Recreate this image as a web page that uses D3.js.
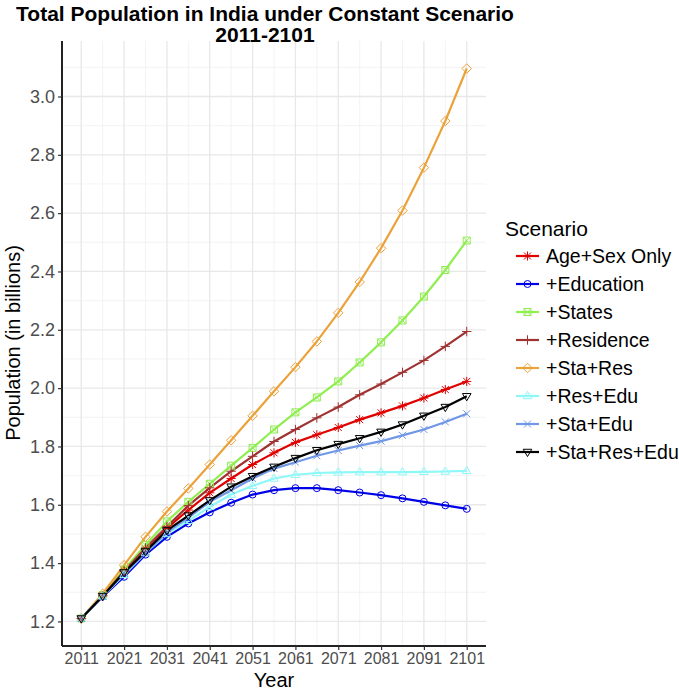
<!DOCTYPE html>
<html>
<head>
<meta charset="utf-8">
<script src="https://cdn.jsdelivr.net/npm/d3@7/dist/d3.min.js"></script>
<style>
  body { margin: 0; background: #fff; }
  svg { display: block; font-family: "Liberation Sans", Arial, sans-serif; }
</style>
</head>
<body>
<svg id="chart" width="679" height="690"></svg>
<script>
// ---- Data ----
const years = [2011, 2016, 2021, 2026, 2031, 2036, 2041, 2046, 2051, 2056, 2061, 2066, 2071, 2076, 2081, 2086, 2091, 2096, 2101];
const scenarios = ["Age+Sex Only", "+Education", "+States", "+Residence", "+Sta+Res", "+Res+Edu", "+Sta+Edu", "+Sta+Res+Edu"];
const ageSexOnly = [1.21, 1.288, 1.375, 1.449, 1.520, 1.582, 1.641, 1.690, 1.738, 1.778, 1.814, 1.840, 1.865, 1.892, 1.915, 1.939, 1.966, 1.995, 2.023];
const education  = [1.21, 1.285, 1.353, 1.429, 1.490, 1.536, 1.574, 1.607, 1.635, 1.650, 1.657, 1.657, 1.650, 1.642, 1.633, 1.622, 1.610, 1.598, 1.586];
const states     = [1.21, 1.290, 1.378, 1.462, 1.543, 1.610, 1.672, 1.734, 1.795, 1.858, 1.917, 1.968, 2.023, 2.088, 2.157, 2.232, 2.314, 2.405, 2.506];
const residence  = [1.21, 1.288, 1.372, 1.452, 1.525, 1.597, 1.658, 1.715, 1.766, 1.817, 1.858, 1.898, 1.935, 1.977, 2.014, 2.054, 2.095, 2.143, 2.194];
const staRes     = [1.21, 1.295, 1.393, 1.490, 1.577, 1.656, 1.738, 1.821, 1.905, 1.989, 2.072, 2.160, 2.258, 2.364, 2.480, 2.609, 2.756, 2.916, 3.096];
const resEdu     = [1.21, 1.286, 1.360, 1.435, 1.500, 1.545, 1.593, 1.635, 1.665, 1.690, 1.703, 1.709, 1.711, 1.712, 1.712, 1.712, 1.713, 1.714, 1.716];
const staEdu     = [1.21, 1.286, 1.365, 1.435, 1.505, 1.556, 1.610, 1.650, 1.690, 1.724, 1.746, 1.768, 1.786, 1.803, 1.818, 1.838, 1.858, 1.884, 1.912];
const staResEdu  = [1.21, 1.287, 1.368, 1.440, 1.512, 1.563, 1.615, 1.662, 1.698, 1.730, 1.760, 1.787, 1.808, 1.828, 1.850, 1.875, 1.905, 1.935, 1.972];
const seriesValues = [ageSexOnly, education, states, residence, staRes, resEdu, staEdu, staResEdu];
const xTicks = [2011, 2021, 2031, 2041, 2051, 2061, 2071, 2081, 2091, 2101];
const yTicks = [1.2, 1.4, 1.6, 1.8, 2.0, 2.2, 2.4, 2.6, 2.8, 3.0];

// ---- Styles ----
const colors = ["#e00000", "#0000e6", "#90ee50", "#a03232", "#eba23a", "#8ef7f7", "#7097e6", "#000000"];
const shapes = ["asterisk", "circle", "squarecross", "plus", "diamond", "triangleUp", "cross", "triangleDown"];

const svg = d3.select("#chart");
const P = { left: 62, right: 486, top: 41, bottom: 646 };

const allVals = seriesValues.flat();
const yMin = d3.min(allVals), yMax = d3.max(allVals);
const yPad = (yMax - yMin) * 0.05;
const xPad = (d3.max(years) - d3.min(years)) * 0.05;

const x = d3.scaleLinear().domain([d3.min(years) - xPad, d3.max(years) + xPad]).range([P.left, P.right]);
const y = d3.scaleLinear().domain([yMin - yPad, yMax + yPad]).range([P.bottom, P.top]);

// grid
const grid = svg.append("g");
const xMinor = xTicks.slice(0, -1).map(d => d + 5);
const yMinor = yTicks.map(d => +(d + 0.1).toFixed(1));
grid.selectAll(".xminor").data(xMinor).join("line")
  .attr("x1", d => x(d)).attr("x2", d => x(d)).attr("y1", P.top).attr("y2", P.bottom)
  .attr("stroke", "#f0f0f0").attr("stroke-width", 0.8);
grid.selectAll(".yminor").data(yMinor).join("line")
  .attr("x1", P.left).attr("x2", P.right).attr("y1", d => y(d)).attr("y2", d => y(d))
  .attr("stroke", "#f0f0f0").attr("stroke-width", 0.8);
grid.selectAll(".xmajor").data(xTicks).join("line")
  .attr("x1", d => x(d)).attr("x2", d => x(d)).attr("y1", P.top).attr("y2", P.bottom)
  .attr("stroke", "#e8e8e8").attr("stroke-width", 1.3);
grid.selectAll(".ymajor").data(yTicks).join("line")
  .attr("x1", P.left).attr("x2", P.right).attr("y1", d => y(d)).attr("y2", d => y(d))
  .attr("stroke", "#e8e8e8").attr("stroke-width", 1.3);

// shape path generator
function shapePath(type, s) {
  const p = d3.path();
  switch (type) {
    case "circle":
      p.moveTo(s, 0); p.arc(0, 0, s, 0, 2 * Math.PI); break;
    case "squarecross":
      p.rect(-s, -s, 2 * s, 2 * s);
      p.moveTo(-s, -s); p.lineTo(s, s); p.moveTo(s, -s); p.lineTo(-s, s); break;
    case "plus": {
      const a = s * 1.35;
      p.moveTo(-a, 0); p.lineTo(a, 0); p.moveTo(0, -a); p.lineTo(0, a); break;
    }
    case "cross":
      p.moveTo(-s, -s); p.lineTo(s, s); p.moveTo(s, -s); p.lineTo(-s, s); break;
    case "asterisk": {
      const a = s * 1.3;
      p.moveTo(-a, 0); p.lineTo(a, 0); p.moveTo(0, -a); p.lineTo(0, a);
      p.moveTo(-s, -s); p.lineTo(s, s); p.moveTo(s, -s); p.lineTo(-s, s); break;
    }
    case "diamond": {
      const a = s * 1.35;
      p.moveTo(0, -a); p.lineTo(a, 0); p.lineTo(0, a); p.lineTo(-a, 0); p.closePath(); break;
    }
    case "triangleUp": {
      const a = s * 1.3;
      p.moveTo(0, -a); p.lineTo(a * 0.95, a * 0.6); p.lineTo(-a * 0.95, a * 0.6); p.closePath(); break;
    }
    case "triangleDown": {
      const a = s * 1.3;
      p.moveTo(0, a); p.lineTo(a * 0.95, -a * 0.6); p.lineTo(-a * 0.95, -a * 0.6); p.closePath(); break;
    }
  }
  return p.toString();
}

const line = d3.line().x(d => x(d[0])).y(d => y(d[1]));
const plot = svg.append("g");
seriesValues.forEach((vals, i) => {
  const pts = years.map((yr, j) => [yr, vals[j]]);
  plot.append("path").datum(pts).attr("d", line)
    .attr("fill", "none").attr("stroke", colors[i]).attr("stroke-width", 2.2)
    .attr("stroke-linejoin", "round");
});
seriesValues.forEach((vals, i) => {
  const pts = years.map((yr, j) => [yr, vals[j]]);
  plot.selectAll(".pt" + i).data(pts).join("path")
    .attr("transform", d => `translate(${x(d[0])},${y(d[1])})`)
    .attr("d", shapePath(shapes[i], 3.5))
    .attr("fill", "none").attr("stroke", colors[i]).attr("stroke-width", 1);
});

// axes
const xAxis = svg.append("g").attr("transform", `translate(0,${P.bottom})`)
  .call(d3.axisBottom(x).tickValues(xTicks).tickSize(4).tickPadding(3).tickFormat(d3.format("d")));
xAxis.select(".domain").attr("stroke", "#222").attr("stroke-width", 2);
xAxis.selectAll(".tick line").attr("stroke", "#333").attr("stroke-width", 1.2);
xAxis.selectAll("text").attr("fill", "#4d4d4d").attr("font-size", 16);

const yAxis = svg.append("g").attr("transform", `translate(${P.left},0)`)
  .call(d3.axisLeft(y).tickValues(yTicks).tickSize(4).tickPadding(3).tickFormat(d3.format(".1f")));
yAxis.select(".domain").attr("stroke", "#222").attr("stroke-width", 2);
yAxis.selectAll(".tick line").attr("stroke", "#333").attr("stroke-width", 1.2);
yAxis.selectAll("text").attr("fill", "#4d4d4d").attr("font-size", 18);
xAxis.select(".domain").attr("d", `M${P.left},0H${P.right}`);
yAxis.select(".domain").attr("d", `M0,${P.bottom}V${P.top}`);

// titles
svg.append("text").attr("x", 265).attr("y", 21).attr("text-anchor", "middle")
  .attr("font-weight", "bold").attr("font-size", 21).attr("fill", "#000")
  .text("Total Population in India under Constant Scenario");
svg.append("text").attr("x", 265).attr("y", 42).attr("text-anchor", "middle")
  .attr("font-weight", "bold").attr("font-size", 21).attr("fill", "#000")
  .text("2011-2101");
svg.append("text").attr("x", 274).attr("y", 687).attr("text-anchor", "middle")
  .attr("font-size", 20).attr("fill", "#000").text("Year");
svg.append("text").attr("transform", `translate(20,343) rotate(-90)`).attr("text-anchor", "middle")
  .attr("font-size", 20).attr("fill", "#000").text("Population (in billions)");

// legend
const lg = svg.append("g");
lg.append("text").attr("x", 505).attr("y", 236).attr("font-size", 21).attr("fill", "#000").text("Scenario");
scenarios.forEach((name, i) => {
  const cy = 256 + i * 28;
  lg.append("line").attr("x1", 516).attr("x2", 539).attr("y1", cy).attr("y2", cy)
    .attr("stroke", colors[i]).attr("stroke-width", 2.2);
  lg.append("path").attr("transform", `translate(527.5,${cy})`).attr("d", shapePath(shapes[i], 3.5))
    .attr("fill", "none").attr("stroke", colors[i]).attr("stroke-width", 1);
  lg.append("text").attr("x", 546).attr("y", cy).attr("dy", "0.35em")
    .attr("font-size", 19.5).attr("fill", "#000").text(name);
});
</script>
</body>
</html>
